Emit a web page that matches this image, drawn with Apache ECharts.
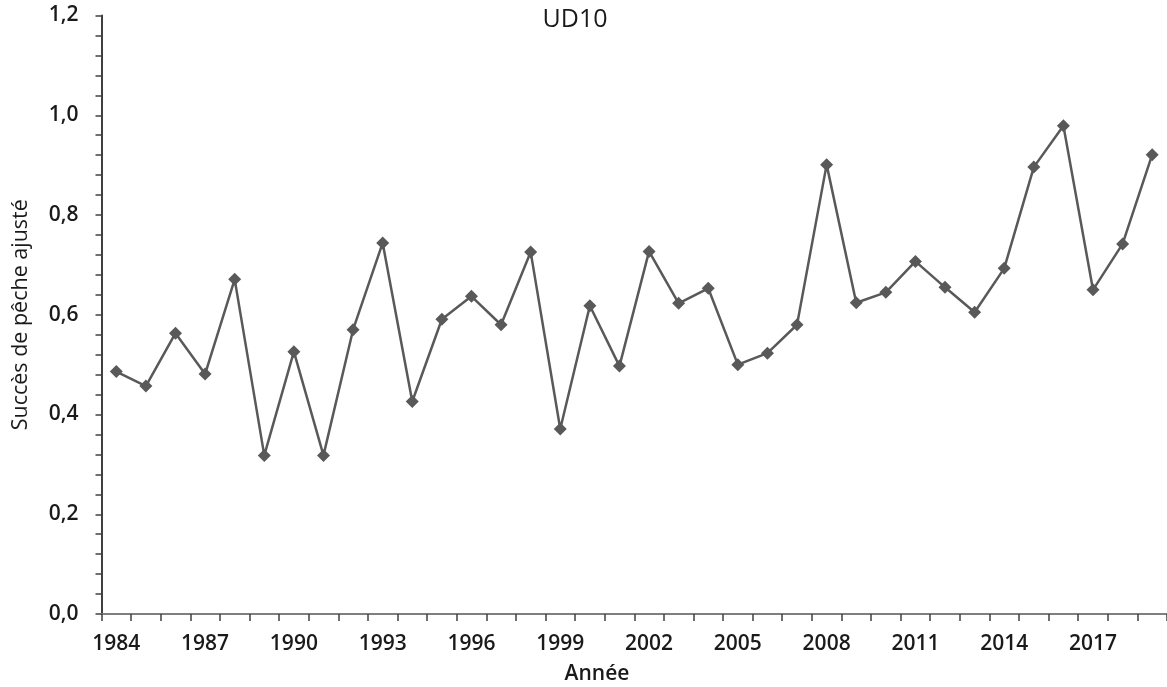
<!DOCTYPE html>
<html>
<head>
<meta charset="utf-8">
<title>UD10</title>
<script src="https://cdn.jsdelivr.net/npm/echarts@6/dist/echarts.min.js"></script>
<style>
  html, body { margin: 0; padding: 0; background: #ffffff; }
  #chart { width: 1167px; height: 687px; }
</style>
</head>
<body>
<div id="chart"></div>
<script>
// Years of the series (category axis)
const years = [
  1984, 1985, 1986, 1987, 1988, 1989, 1990, 1991, 1992, 1993, 1994, 1995,
  1996, 1997, 1998, 1999, 2000, 2001, 2002, 2003, 2004, 2005, 2006, 2007,
  2008, 2009, 2010, 2011, 2012, 2013, 2014, 2015, 2016, 2017, 2018, 2019
];

// Adjusted catch success per year
const succes = [
  0.486, 0.457, 0.563, 0.481, 0.671, 0.318, 0.526, 0.318, 0.570, 0.744, 0.426, 0.591,
  0.637, 0.580, 0.726, 0.371, 0.618, 0.497, 0.727, 0.623, 0.653, 0.500, 0.523, 0.580,
  0.901, 0.624, 0.645, 0.707, 0.655, 0.605, 0.693, 0.896, 0.979, 0.650, 0.742, 0.921
];

// Value axis range and step
const yMin = 0;
const yMax = 1.2;
const yStep = 0.2;

const chartTitle = 'UD10';
const xTitle = 'Année';
const yTitle = 'Succès de pêche ajusté';

const FONT = '"Open Sans", "Liberation Sans", sans-serif';

const chart = echarts.init(document.getElementById('chart'), null, { renderer: 'canvas' });

chart.setOption({
  backgroundColor: '#ffffff',
  animation: false,
  title: [
    {
      text: chartTitle,
      left: 570,
      top: 2,
      textAlign: 'center',
      textStyle: { fontFamily: FONT, fontSize: 25, fontWeight: 'normal', color: '#1a1a1a' }
    },
    {
      text: xTitle,
      left: 592,
      top: 659,
      textAlign: 'center',
      textStyle: { fontFamily: FONT, fontSize: 21, fontWeight: 600, color: '#1a1a1a' }
    }
  ],
  grid: {
    left: 101.5,
    top: 15.5,
    bottom: 73,
    width: 1067,
    containLabel: false
  },
  xAxis: {
    type: 'category',
    data: years,
    boundaryGap: true,
    axisLine: { show: true, lineStyle: { color: '#7f7f7f', width: 2 } },
    axisTick: { show: true, interval: 0, inside: false, length: 7, lineStyle: { color: '#404040', width: 1.5 } },
    axisLabel: {
      interval: 2,
      margin: 20,
      fontFamily: FONT,
      fontSize: 21,
      fontWeight: 600,
      color: '#1a1a1a'
    },
    splitLine: { show: false }
  },
  yAxis: {
    type: 'value',
    min: yMin,
    max: yMax,
    interval: yStep,
    name: yTitle,
    nameLocation: 'middle',
    nameRotate: 90,
    nameGap: 70,
    nameTextStyle: { fontFamily: FONT, fontSize: 21.5, fontWeight: 'normal', color: '#1a1a1a' },
    axisLine: { show: true, lineStyle: { color: '#404040', width: 2 } },
    axisTick: { show: true, inside: false, length: 6, lineStyle: { color: '#404040', width: 1.5 } },
    minorTick: { show: true, splitNumber: 5, length: 6, lineStyle: { color: '#404040', width: 1.5 } },
    axisLabel: {
      margin: 23,
      fontFamily: FONT,
      fontSize: 21,
      fontWeight: 600,
      color: '#1a1a1a',
      formatter: v => v.toFixed(1).replace('.', ',')
    },
    splitLine: { show: false },
    minorSplitLine: { show: false }
  },
  series: [
    {
      type: 'line',
      data: succes,
      symbol: 'diamond',
      symbolSize: 13,
      showAllSymbol: true,
      lineStyle: { color: '#595959', width: 2.5 },
      itemStyle: { color: '#595959', borderWidth: 0 },
      emphasis: { disabled: true }
    }
  ]
});
</script>
</body>
</html>
